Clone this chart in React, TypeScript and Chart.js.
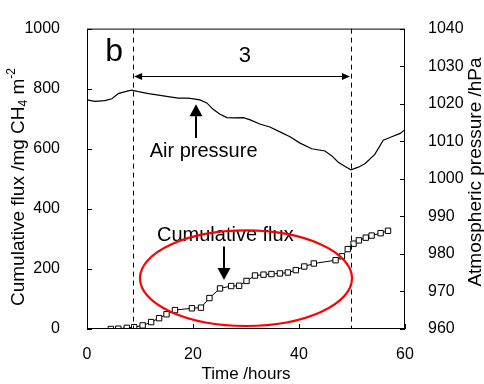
import React, { useEffect, useRef } from "react";
import { Chart, registerables } from "chart.js";

Chart.register(...registerables);

const FONT = "'Liberation Sans', Arial, sans-serif";

// Air pressure (hPa) vs time (hours)
const pressureTime = [0, 1.5, 3.4, 4.7, 5.9, 7.2, 8.4, 9.7, 11.6, 13.5, 15.3, 17.2, 19.1, 20.4, 21.3, 22.6, 23.8, 25.1, 26.4, 27.6, 29.5, 30.8, 32.6, 34.5, 36.4, 38.3, 40.2, 42.4, 44.9, 46.2, 47.4, 48.7, 49.8, 51.2, 52.5, 54.3, 55.9, 57.5, 59.1, 60];
const pressureHpa = [1021.0, 1020.6, 1020.8, 1021.3, 1022.7, 1023.2, 1023.6, 1023.2, 1022.7, 1022.3, 1021.9, 1021.5, 1021.5, 1021.2, 1021.0, 1020.2, 1018.5, 1017.2, 1016.3, 1016.2, 1016.3, 1015.7, 1014.6, 1013.8, 1012.5, 1011.2, 1009.5, 1008.0, 1007.4, 1006.1, 1004.4, 1003.3, 1002.4, 1003.1, 1004.1, 1006.5, 1010.3, 1011.2, 1012.1, 1013.1];

// Cumulative flux (mg CH4 m-2) vs time (hours)
const fluxTime = [4.5, 5.9, 7.5, 8.9, 10.5, 12.1, 13.6, 15.0, 16.6, 19.8, 21.5, 23.1, 25.1, 27.2, 28.7, 30.1, 31.7, 33.3, 34.8, 36.4, 37.9, 39.4, 41.0, 42.8, 46.9, 48.1, 49.2, 50.3, 51.3, 52.6, 53.7, 55.4, 56.8];
const fluxValue = [0, 1, 4, 6, 12, 23, 36, 49, 63, 69, 71, 103, 135, 143, 144, 160, 178, 181, 183, 185, 188, 196, 208, 218, 229, 242, 266, 284, 295, 304, 311, 319, 327];

// Axis ticks
const xTicks = [0, 20, 40, 60];
const yLeftTicks = [0, 200, 400, 600, 800, 1000];
const yRightTicks = [960, 970, 980, 990, 1000, 1010, 1020, 1030, 1040];

// Annotations (data coordinates)
const dashedTimes = [8.7, 49.8];
const spanLevel = 843;
const spanLabel = "3";
const spanLabelPos = [29.8, 888];
const panelLabel = "b";
const panelLabelPos = [5.1, 891];
const airLabel = "Air pressure";
const airLabelPos = [22.0, 572];
const airArrow = [20.6, 636, 748];
const fluxLabel = "Cumulative flux";
const fluxLabelPos = [26.1, 294];
const fluxArrow = [25.85, 275, 163];
const ellipse = [30.0, 169, 20.0, 159];

const xTitle = "Time /hours";
const rightTitle = "Atmospheric pressure /hPa";

function drawArrow(ctx: CanvasRenderingContext2D, x: number, y1: number, y2: number) {
  const dir = y2 > y1 ? 1 : -1;
  const headLen = 12;
  const headHalf = 6.5;
  ctx.save();
  ctx.strokeStyle = "#000";
  ctx.fillStyle = "#000";
  ctx.lineWidth = 2;
  ctx.beginPath();
  ctx.moveTo(x, y1);
  ctx.lineTo(x, y2 - dir * headLen);
  ctx.stroke();
  ctx.beginPath();
  ctx.moveTo(x, y2);
  ctx.lineTo(x - headHalf, y2 - dir * headLen);
  ctx.lineTo(x + headHalf, y2 - dir * headLen);
  ctx.closePath();
  ctx.fill();
  ctx.restore();
}

const decorPlugin = {
  id: "decor",
  afterDatasetsDraw(chart: any) {
    const { ctx, chartArea } = chart;
    const { left, right, top, bottom } = chartArea;
    const x = chart.scales.x;
    const y = chart.scales.y;
    const y2 = chart.scales.y2;
    ctx.save();
    // frame
    ctx.strokeStyle = "#000";
    ctx.lineWidth = 1;
    ctx.strokeRect(left + 0.5, top + 0.5, right - left - 1, bottom - top - 1);
    // inward ticks
    ctx.beginPath();
    xTicks.forEach((v) => {
      const px = Math.round(x.getPixelForValue(v)) + 0.5;
      ctx.moveTo(px, bottom);
      ctx.lineTo(px, bottom - 5);
    });
    yLeftTicks.forEach((v) => {
      const py = Math.round(y.getPixelForValue(v)) + 0.5;
      ctx.moveTo(left, py);
      ctx.lineTo(left + 5, py);
    });
    yRightTicks.forEach((v) => {
      const py = Math.round(y2.getPixelForValue(v)) + 0.5;
      ctx.moveTo(right, py);
      ctx.lineTo(right - 5, py);
    });
    ctx.stroke();

    // dashed vertical lines
    ctx.setLineDash([5, 4]);
    ctx.beginPath();
    dashedTimes.forEach((t) => {
      const px = Math.round(x.getPixelForValue(t)) + 0.5;
      ctx.moveTo(px, top);
      ctx.lineTo(px, bottom);
    });
    ctx.stroke();
    ctx.setLineDash([]);

    // double-headed span arrow
    const sx1 = x.getPixelForValue(dashedTimes[0]);
    const sx2 = x.getPixelForValue(dashedTimes[1]);
    const sy = Math.round(y.getPixelForValue(spanLevel)) + 0.5;
    ctx.beginPath();
    ctx.moveTo(sx1 + 6, sy);
    ctx.lineTo(sx2 - 6, sy);
    ctx.stroke();
    ctx.fillStyle = "#000";
    ctx.beginPath();
    ctx.moveTo(sx1 + 1, sy);
    ctx.lineTo(sx1 + 9, sy - 3.5);
    ctx.lineTo(sx1 + 9, sy + 3.5);
    ctx.closePath();
    ctx.fill();
    ctx.beginPath();
    ctx.moveTo(sx2 - 1, sy);
    ctx.lineTo(sx2 - 9, sy - 3.5);
    ctx.lineTo(sx2 - 9, sy + 3.5);
    ctx.closePath();
    ctx.fill();

    // texts
    ctx.fillStyle = "#000";
    ctx.textAlign = "center";
    ctx.textBaseline = "alphabetic";
    ctx.font = `22px ${FONT}`;
    ctx.fillText(spanLabel, x.getPixelForValue(spanLabelPos[0]), y.getPixelForValue(spanLabelPos[1]));
    ctx.font = `32px ${FONT}`;
    ctx.fillText(panelLabel, x.getPixelForValue(panelLabelPos[0]), y.getPixelForValue(panelLabelPos[1]));
    ctx.font = `20px ${FONT}`;
    ctx.fillText(airLabel, x.getPixelForValue(airLabelPos[0]), y.getPixelForValue(airLabelPos[1]));
    ctx.fillText(fluxLabel, x.getPixelForValue(fluxLabelPos[0]), y.getPixelForValue(fluxLabelPos[1]));

    // arrows
    drawArrow(ctx, Math.round(x.getPixelForValue(airArrow[0])), y.getPixelForValue(airArrow[1]), y.getPixelForValue(airArrow[2]));
    drawArrow(ctx, Math.round(x.getPixelForValue(fluxArrow[0])), y.getPixelForValue(fluxArrow[1]), y.getPixelForValue(fluxArrow[2]));

    // red ellipse
    const cx = x.getPixelForValue(ellipse[0]);
    const cy = y.getPixelForValue(ellipse[1]);
    const rx = x.getPixelForValue(ellipse[0] + ellipse[2]) - cx;
    const ry = cy - y.getPixelForValue(ellipse[1] + ellipse[3]);
    ctx.strokeStyle = "#ff0000";
    ctx.lineWidth = 2.2;
    ctx.beginPath();
    ctx.ellipse(cx, cy, rx, ry, 0, 0, Math.PI * 2);
    ctx.stroke();

    // axis titles
    ctx.fillStyle = "#000";
    ctx.font = `17px ${FONT}`;
    ctx.textAlign = "center";
    ctx.textBaseline = "middle";
    ctx.fillText(xTitle, (left + right) / 2, 374);

    // right title
    ctx.save();
    ctx.translate(476, 172);
    ctx.rotate(-Math.PI / 2);
    ctx.font = `19px ${FONT}`;
    ctx.fillText(rightTitle, 0, 0);
    ctx.restore();

    // left title with sub/superscript
    ctx.save();
    ctx.translate(19, 187);
    ctx.rotate(-Math.PI / 2);
    const big = `19px ${FONT}`;
    const small = `12px ${FONT}`;
    const parts: [string, string, number][] = [
      ["Cumulative flux /mg CH", big, 0],
      ["4", small, 5],
      [" m", big, 0],
      ["-2", small, -7],
    ];
    let total = 0;
    parts.forEach(([s, f]) => {
      ctx.font = f;
      total += ctx.measureText(s).width;
    });
    let cur = -total / 2;
    ctx.textAlign = "left";
    parts.forEach(([s, f, dy]) => {
      ctx.font = f;
      ctx.fillText(s, cur, dy);
      cur += ctx.measureText(s).width;
    });
    ctx.restore();

    ctx.restore();
  },
};

export default function App() {
  const ref = useRef<HTMLCanvasElement>(null);
  useEffect(() => {
    if (!ref.current) return;
    const tickFont = { family: FONT, size: 16 };
    const fmt = (v: any) => String(v);
    const chart = new Chart(ref.current, {
      type: "line",
      data: {
        datasets: [
          {
            label: "Air pressure",
            data: pressureTime.map((t, i) => ({ x: t, y: pressureHpa[i] })),
            yAxisID: "y2",
            borderColor: "#000",
            borderWidth: 1.2,
            pointRadius: 0,
            tension: 0,
          },
          {
            label: "Cumulative flux",
            data: fluxTime.map((t, i) => ({ x: t, y: fluxValue[i] })),
            yAxisID: "y",
            borderColor: "#000",
            borderWidth: 1,
            pointStyle: "rect",
            pointRadius: 3.8,
            pointBackgroundColor: "#fff",
            pointBorderColor: "#000",
            pointBorderWidth: 1,
            tension: 0,
          },
        ],
      },
      options: {
        responsive: false,
        animation: false,
        devicePixelRatio: 1,
        layout: { padding: { top: 16, left: 0, right: 0, bottom: 0 } },
        plugins: { legend: { display: false }, tooltip: { enabled: false } },
        scales: {
          x: {
            type: "linear",
            min: 0,
            max: 60,
            afterBuildTicks: (s: any) => { s.ticks = xTicks.map((v) => ({ value: v })); },
            grid: { display: false },
            border: { display: false },
            ticks: { color: "#000", font: tickFont, padding: 8, maxRotation: 0, autoSkip: false, callback: fmt },
            afterFit: (s: any) => { s.height = 55; },
          },
          y: {
            position: "left",
            min: 0,
            max: 1000,
            afterBuildTicks: (s: any) => { s.ticks = yLeftTicks.map((v) => ({ value: v })); },
            grid: { display: false },
            border: { display: false },
            ticks: { color: "#000", font: tickFont, padding: 19, callback: fmt },
            afterFit: (s: any) => { s.width = 87; },
          },
          y2: {
            position: "right",
            min: 960,
            max: 1040,
            afterBuildTicks: (s: any) => { s.ticks = yRightTicks.map((v) => ({ value: v })); },
            grid: { display: false },
            border: { display: false },
            ticks: { color: "#000", font: tickFont, padding: 15, callback: fmt },
            afterFit: (s: any) => { s.width = 79; },
          },
        },
      },
      plugins: [decorPlugin],
    } as any);
    return () => chart.destroy();
  }, []);
  return (
    <div style={{ position: "fixed", left: 0, top: 0, width: 484, height: 384, background: "#fff" }}>
      <canvas ref={ref} width={484} height={384} style={{ display: "block" }} />
    </div>
  );
}
